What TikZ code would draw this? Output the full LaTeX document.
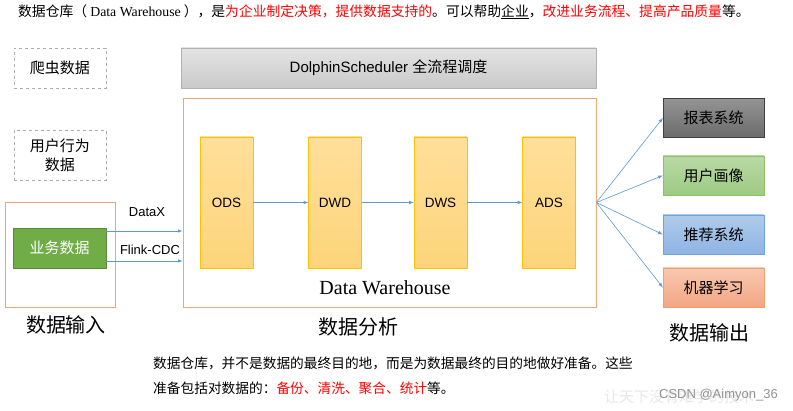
\documentclass[tikz,border=0pt]{standalone}
\usepackage{fontspec}
\usepackage{xcolor}
\setmainfont{Liberation Sans}
\newfontfamily\cjk{Noto Sans CJK SC}
\newfontfamily\whserif{Liberation Serif}
\usetikzlibrary{positioning}
\definecolor{flowblue}{HTML}{5B9BD5}
\definecolor{inorange}{HTML}{F2A577}
\definecolor{layerline}{HTML}{FFC000}
\definecolor{layertop}{HTML}{FFDF9A}
\definecolor{layerbot}{HTML}{FDD47A}
\definecolor{bizgreen}{HTML}{70AD47}
\tikzstyle{flow} = [->,>=latex,flowblue,line width=0.6pt]
\tikzstyle{dashbox} = [draw=gray!65,dashed,line width=0.8pt,minimum width=92pt,align=center,font=\cjk\fontsize{15}{19}\selectfont]
\tikzstyle{layer} = [draw=layerline,top color=layertop,bottom color=layerbot,minimum width=53pt,minimum height=131pt,font=\fontsize{13.5}{16}\selectfont]
\tikzstyle{outbox} = [minimum width=101pt,minimum height=39pt,font=\cjk\fontsize{15}{18}\selectfont]
\tikzstyle{stage} = [font=\cjk\fontsize{20}{24}\selectfont]
\tikzstyle{para} = [anchor=west,inner sep=0pt,font=\cjk\fontsize{13.8}{16}\selectfont]

\begin{document}
\begin{tikzpicture}[x=1pt,y=-1pt]
        \useasboundingbox[fill=white] (0,0) rectangle (793,411);
        \node[para] (intro) at (18,12) {数据仓库（ {\whserif Data Warehouse} ），是\textcolor{red}{为企业制定决策，提供数据支持的}。可以帮助\underline{企业}，\textcolor{red}{改进业务流程、提高产品质量}等。};
        % input side
        \node[dashbox,minimum height=40pt] (crawl) at (60,68) {爬虫数据};
        \node[dashbox,minimum height=50pt] (user) at (60,155) {用户行为\\数据};
        \node[draw=inorange,line width=0.8pt,minimum width=110pt,minimum height=105pt] (inbox) at (60,254.5) {};
        \node[draw=bizgreen!80!black,fill=bizgreen,minimum width=93pt,minimum height=40pt,text=white,font=\cjk\fontsize{15}{18}\selectfont] (biz) at (59.5,248) {业务数据};
        \node[font=\fontsize{13}{15}\selectfont] (datax) at (147,212) {DataX};
        \node[font=\fontsize{13}{15}\selectfont] (cdc) at (150,250) {Flink-CDC};
        \node[stage] (inlabel) at (66,325) {数据输入};
        % warehouse
        \node[draw=gray!60,top color=gray!22,bottom color=gray!42,minimum width=415pt,minimum height=40pt,font=\fontsize{15}{18}\selectfont] (sched) at (388.5,68) {DolphinScheduler {\cjk 全流程调度}};
        \node[draw=inorange,line width=0.8pt,minimum width=413pt,minimum height=209pt] (dw) at (389.5,202.5) {};
        \node[layer] (ods) at (226.5,202.5) {ODS};
        \node[layer] (dwd) at (335,202.5) {DWD};
        \node[layer] (dws) at (440.5,202.5) {DWS};
        \node[layer] (ads) at (549,202.5) {ADS};
        \node[font=\whserif\fontsize{20}{24}\selectfont] (dwlabel) at (385,288) {Data Warehouse};
        \node[stage] (anlabel) at (358,327) {数据分析};
        \draw[flow] (biz.east |- 0,231) -- (dw.west |- 0,231);
        \draw[flow] (biz.east |- 0,261) -- (dw.west |- 0,261);
        \draw[flow] (ods) -- (dwd);
        \draw[flow] (dwd) -- (dws);
        \draw[flow] (dws) -- (ads);
        % output side
        \node[outbox,draw=black!75,top color=black!42,bottom color=black!58] (report) at (713.5,118) {报表系统};
        \node[outbox,draw={rgb,255:red,140;green,193;blue,104},top color={rgb,255:red,185;green,217;blue,165},bottom color={rgb,255:red,157;green,203;blue,130}] (portrait) at (713.5,175.5) {用户画像};
        \node[outbox,draw={rgb,255:red,111;green,163;blue,219},top color={rgb,255:red,175;green,203;blue,235},bottom color={rgb,255:red,142;green,180;blue,227}] (recom) at (713.5,234.5) {推荐系统};
        \node[outbox,draw={rgb,255:red,240;green,160;blue,112},top color={rgb,255:red,248;green,200;blue,176},bottom color={rgb,255:red,243;green,166;blue,131}] (ml) at (713.5,287.5) {机器学习};
        \node[stage] (outlabel) at (709,333) {数据输出};
        \foreach \t in {report,portrait,recom,ml}
            \draw[flow] (dw.east) -- (\t.west);
        % notes
        \node[para,font=\cjk\fontsize{13.7}{16}\selectfont] (note1) at (153,363) {数据仓库，并不是数据的最终目的地，而是为数据最终的目的地做好准备。这些};
        \node[para,font=\cjk\fontsize{13.7}{16}\selectfont] (note2) at (153,388) {准备包括对数据的：\textcolor{red}{备份、清洗、聚合、统计}等。};
        \node[anchor=west,inner sep=0pt,text=gray!18,font=\cjk\fontsize{15}{17}\selectfont] (mark) at (604,397) {让天下没有难学的技术};
        \node[anchor=east,inner sep=0pt,text=gray!85,font=\fontsize{13}{15}\selectfont] (csdn) at (778,395) {CSDN @Aimyon\_36};
\end{tikzpicture}
\end{document}
